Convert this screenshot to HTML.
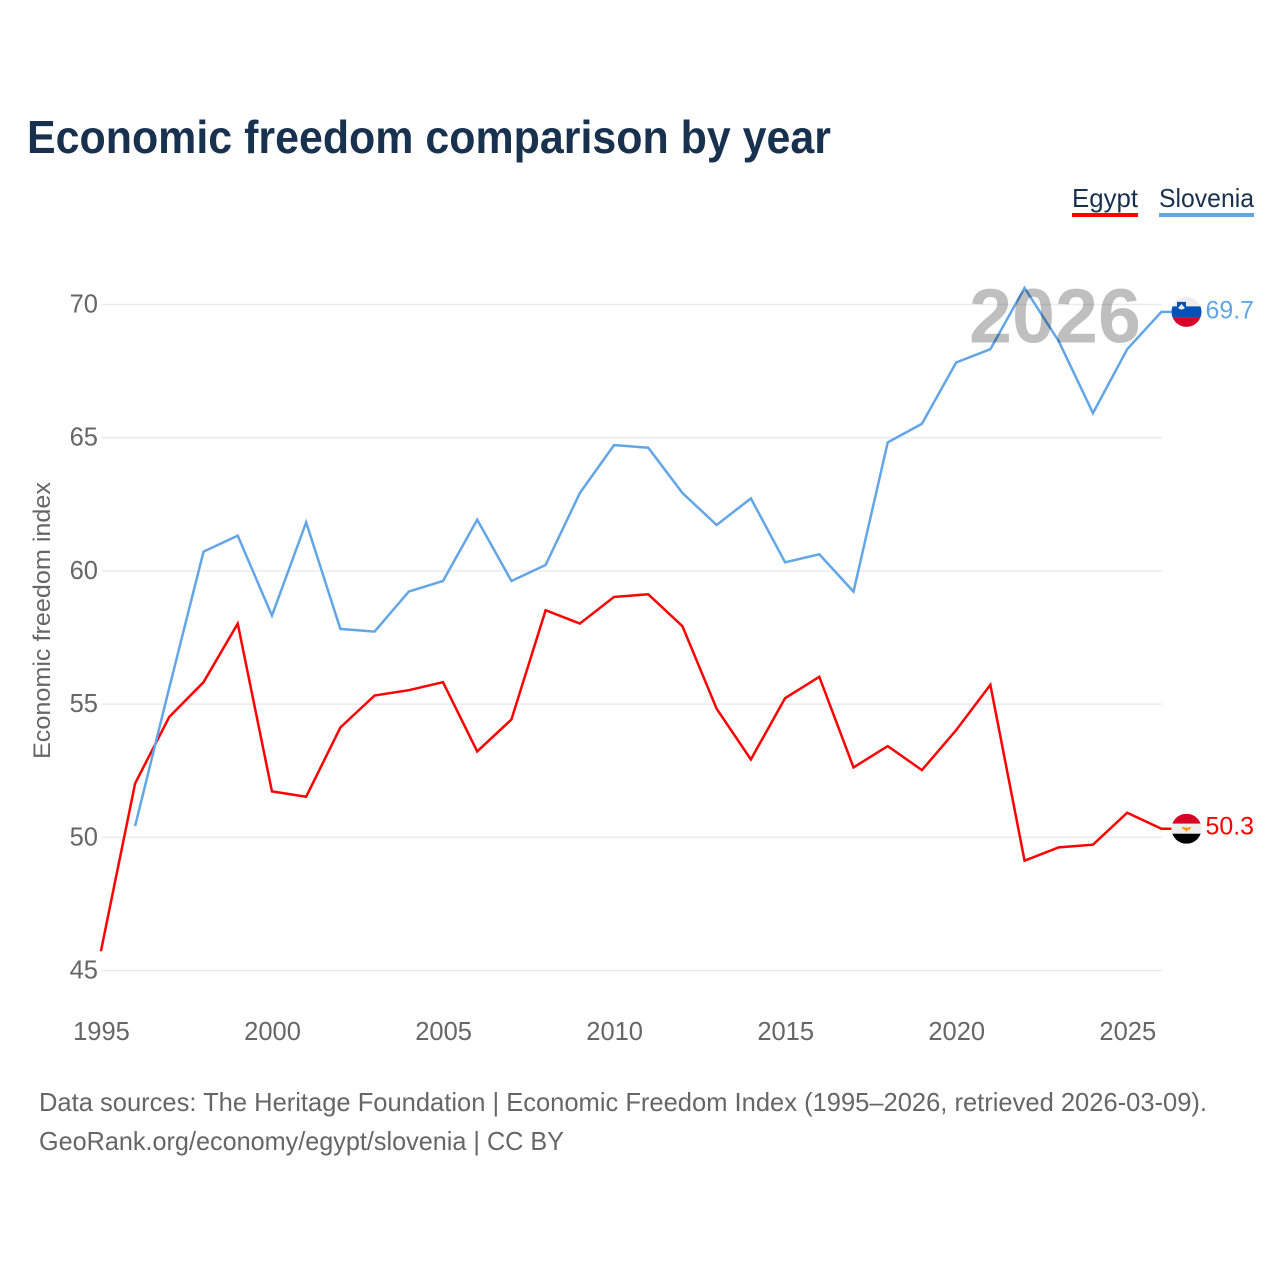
<!DOCTYPE html>
<html lang="en">
<head>
<meta charset="utf-8">
<title>Economic freedom comparison by year</title>
<style>
html,body{margin:0;padding:0;background:#fff;}
svg{display:block;font-family:"Liberation Sans",sans-serif;}
</style>
</head>
<body>
<svg id="chart" xmlns="http://www.w3.org/2000/svg" width="1280" height="1280" viewBox="0 0 1280 1280">
  <defs>
    <clipPath id="flag-clip-si"><circle cx="0" cy="0" r="15"/></clipPath>
    <clipPath id="flag-clip-eg"><circle cx="0" cy="0" r="15"/></clipPath>
  </defs>
  <rect width="1280" height="1280" fill="#fff"/>
  <text x="27" y="153" font-size="46" font-weight="700" fill="#18314f" textLength="804" lengthAdjust="spacingAndGlyphs">Economic freedom comparison by year</text>

  <g>
    <text x="1072" y="207" font-size="26" fill="#18314f" textLength="66" lengthAdjust="spacingAndGlyphs">Egypt</text>
    <rect x="1072" y="213" width="66" height="4" fill="#ff0000"/>
  </g>
  <g>
    <text x="1159" y="207" font-size="26" fill="#18314f" textLength="95" lengthAdjust="spacingAndGlyphs">Slovenia</text>
    <rect x="1159" y="213" width="95" height="4" fill="#62a6e8"/>
  </g>

  <text transform="translate(50,620.5) rotate(-90)" text-anchor="middle" font-size="24" fill="#666" textLength="277" lengthAdjust="spacingAndGlyphs">Economic freedom index</text>

  <g id="grid"></g>
  <g id="y-ticks"></g>
  <g id="x-ticks"></g>
  <g id="series" transform="translate(-0.6,-0.6)"></g>

  <text x="1055" y="342.5" text-anchor="middle" font-size="77" font-weight="700" fill="#000" fill-opacity="0.25" textLength="172" lengthAdjust="spacingAndGlyphs">2026</text>

  <g id="flag-si" clip-path="url(#flag-clip-si)">
    <rect x="-15" y="-15" width="30" height="9.5" fill="#eeeeee"/>
    <rect x="-15" y="-5.5" width="30" height="11" fill="#0052b4"/>
    <rect x="-15" y="5.5" width="30" height="10" fill="#d80027"/>
    <path d="M-9.5,-10 L-0.5,-10 L-0.5,-4 Q-0.5,-1 -5,0 Q-9.5,-1 -9.5,-4 Z" fill="#0052b4"/>
    <path d="M-8.5,-4 L-7,-5.5 L-5,-8 L-3,-5.5 L-1.5,-4 Q-5,-0.5 -8.5,-4 Z" fill="#eeeeee"/>
  </g>
  <g id="flag-eg" clip-path="url(#flag-clip-eg)">
    <rect x="-15" y="-15" width="30" height="10" fill="#d80027"/>
    <rect x="-15" y="-5" width="30" height="10" fill="#eeeeee"/>
    <rect x="-15" y="5" width="30" height="10" fill="#000000"/>
    <path d="M-5,-2 L0,-1 L5,-2 L3,1 L1,1.5 L0,3.5 L-1,1.5 L-3,1 Z" fill="#ff9811"/>
  </g>
  <text id="label-si" x="1205.5" font-size="25" fill="#62a6e8" textLength="48.5" lengthAdjust="spacingAndGlyphs"></text>
  <text id="label-eg" x="1205.5" font-size="25" fill="#ff0000" textLength="48.5" lengthAdjust="spacingAndGlyphs"></text>

  <text x="39" y="1111" font-size="26" fill="#666" textLength="1168" lengthAdjust="spacingAndGlyphs">Data sources: The Heritage Foundation | Economic Freedom Index (1995–2026, retrieved 2026-03-09).</text>
  <text x="39" y="1150" font-size="26" fill="#666" textLength="525" lengthAdjust="spacingAndGlyphs">GeoRank.org/economy/egypt/slovenia | CC BY</text>
</svg>
<script>
const years = [1995,1996,1997,1998,1999,2000,2001,2002,2003,2004,2005,2006,2007,2008,2009,2010,2011,2012,2013,2014,2015,2016,2017,2018,2019,2020,2021,2022,2023,2024,2025,2026];
const egyptValues = [45.7,52,54.5,55.8,58,51.7,51.5,54.1,55.3,55.5,55.8,53.2,54.4,58.5,58,59,59.1,57.9,54.8,52.9,55.2,56,52.6,53.4,52.5,54,55.7,49.1,49.6,49.7,50.9,50.3];
const sloveniaValues = [null,50.4,55.6,60.7,61.3,58.3,61.8,57.8,57.7,59.2,59.6,61.9,59.6,60.2,62.9,64.7,64.6,62.9,61.7,62.7,60.3,60.6,59.2,64.8,65.5,67.8,68.3,70.6,68.6,65.9,68.3,69.7];
const yTickLabels = [45,50,55,60,65,70];
const xTickLabels = [1995,2000,2005,2010,2015,2020,2025];

const NS = 'http://www.w3.org/2000/svg';
function xScale(year){ return 101.5 + (year - 1995) * (1162 - 101.5) / 31; }
function yScale(value){ return 970.5 - (value - 45) * (970.5 - 304.5) / 25; }

const grid = document.getElementById('grid');
const yTicksGroup = document.getElementById('y-ticks');
yTickLabels.forEach(function(t){
  const line = document.createElementNS(NS,'line');
  line.setAttribute('x1', xScale(1995));
  line.setAttribute('x2', xScale(2026));
  line.setAttribute('y1', yScale(t));
  line.setAttribute('y2', yScale(t));
  line.setAttribute('stroke', '#ebebeb');
  line.setAttribute('stroke-width', '1.5');
  
  
  grid.appendChild(line);
  const label = document.createElementNS(NS,'text');
  label.setAttribute('x', 98);
  label.setAttribute('y', yScale(t) + 8);
  label.setAttribute('text-anchor', 'end');
  label.setAttribute('font-size', '25.5');
  label.setAttribute('fill', '#666');
  
  
  label.textContent = t;
  yTicksGroup.appendChild(label);
});

const xTicksGroup = document.getElementById('x-ticks');
xTickLabels.forEach(function(t){
  const label = document.createElementNS(NS,'text');
  label.setAttribute('x', xScale(t));
  label.setAttribute('y', 1040);
  label.setAttribute('text-anchor', 'middle');
  label.setAttribute('font-size', '25.5');
  label.setAttribute('fill', '#666');
  
  
  label.textContent = t;
  xTicksGroup.appendChild(label);
});

function linePath(values){
  let d = '';
  values.forEach(function(v,i){
    if (v === null) return;
    d += (d ? 'L' : 'M') + xScale(years[i]).toFixed(2) + ',' + yScale(v).toFixed(2);
  });
  const last = values[values.length - 1];
  d += 'L' + (xScale(years[years.length - 1]) + 10).toFixed(2) + ',' + yScale(last).toFixed(2);
  return d;
}
const seriesGroup = document.getElementById('series');
const egyptLine = document.createElementNS(NS,'path');
egyptLine.setAttribute('d', linePath(egyptValues));
egyptLine.setAttribute('fill', 'none');
egyptLine.setAttribute('stroke', '#ff0000');
egyptLine.setAttribute('stroke-width', '2.5');


seriesGroup.appendChild(egyptLine);
const sloveniaLine = document.createElementNS(NS,'path');
sloveniaLine.setAttribute('d', linePath(sloveniaValues));
sloveniaLine.setAttribute('fill', 'none');
sloveniaLine.setAttribute('stroke', '#62a6e8');
sloveniaLine.setAttribute('stroke-width', '2.5');


seriesGroup.appendChild(sloveniaLine);

const lastEgypt = egyptValues[egyptValues.length - 1];
const lastSlovenia = sloveniaValues[sloveniaValues.length - 1];
document.getElementById('flag-si').setAttribute('transform', 'translate(1186.5,' + (yScale(lastSlovenia) - 0.6).toFixed(2) + ')');
document.getElementById('flag-eg').setAttribute('transform', 'translate(1186.5,' + (yScale(lastEgypt) - 0.6).toFixed(2) + ')');
const labelSi = document.getElementById('label-si');
labelSi.setAttribute('y', (yScale(lastSlovenia) + 6).toFixed(2));
labelSi.textContent = lastSlovenia.toFixed(1);
const labelEg = document.getElementById('label-eg');
labelEg.setAttribute('y', (yScale(lastEgypt) + 5).toFixed(2));
labelEg.textContent = lastEgypt.toFixed(1);
</script>
</body>
</html>
